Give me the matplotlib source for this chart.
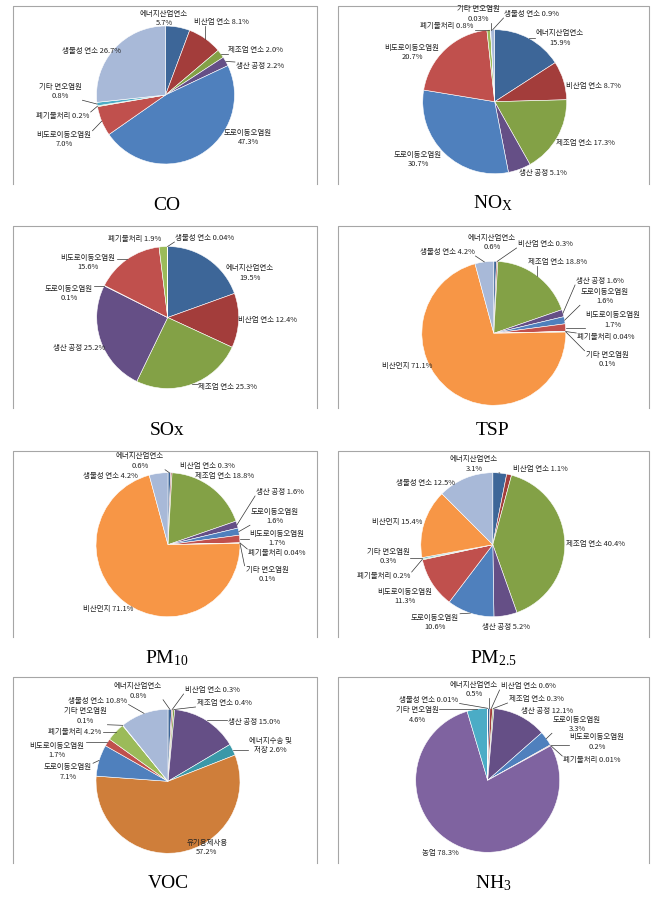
import matplotlib.pyplot as plt
import numpy as np

W, H = 669, 897

plt.rcParams['font.family'] = ['Noto Sans CJK KR', 'DejaVu Sans']
plt.rcParams['mathtext.fontset'] = 'custom'
plt.rcParams['mathtext.rm'] = 'Liberation Serif'
plt.rcParams['mathtext.it'] = 'Liberation Serif:italic'

# === Data ===
co_names = ['에너지산업연소', '비산업 연소', '제조업 연소', '생산 공정', '도로이동오염원',
            '비도로이동오염원', '폐기물처리', '기타 면오염원', '생물성 연소']
co_values = [5.7, 8.1, 2.0, 2.2, 47.3, 7.0, 0.2, 0.8, 26.7]

nox_names = co_names
nox_values = [15.9, 8.7, 17.3, 5.1, 30.7, 20.7, 0.8, 0.03, 0.9]

sox_names = ['에너지산업연소', '비산업 연소', '제조업 연소', '생산 공정', '도로이동오염원',
             '비도로이동오염원', '폐기물처리', '생물성 연소']
sox_values = [19.5, 12.4, 25.3, 25.2, 0.1, 15.6, 1.9, 0.04]

tsp_names = ['에너지산업연소', '비산업 연소', '제조업 연소', '생산 공정', '도로이동오염원',
             '비도로이동오염원', '폐기물처리', '기타 면오염원', '비산먼지', '생물성 연소']
tsp_values = [0.6, 0.3, 18.8, 1.6, 1.6, 1.7, 0.04, 0.1, 71.1, 4.2]

pm10_names = tsp_names
pm10_values = [0.6, 0.3, 18.8, 1.6, 1.6, 1.7, 0.04, 0.1, 71.1, 4.2]

pm25_names = tsp_names
pm25_values = [3.1, 1.1, 40.4, 5.2, 10.6, 11.3, 0.2, 0.3, 15.4, 12.5]

voc_names = ['에너지산업연소', '비산업 연소', '제조업 연소', '생산 공정', '에너지수송 및\n저장',
             '유기용제사용', '도로이동오염원', '비도로이동오염원', '폐기물처리', '기타 면오염원',
             '생물성 연소']
voc_values = [0.8, 0.3, 0.4, 15.0, 2.6, 57.2, 7.1, 1.7, 4.2, 0.1, 10.8]

nh3_names = ['에너지산업연소', '비산업 연소', '제조업 연소', '생산 공정', '도로이동오염원',
             '비도로이동오염원', '폐기물처리', '농업', '기타 면오염원', '생물성 연소']
nh3_values = [0.5, 0.6, 0.3, 12.1, 3.3, 0.2, 0.01, 78.3, 4.6, 0.01]

captions = ['CO', r'NO$_{\mathrm{X}}$', 'SOx', 'TSP',
            r'PM$_{10}$', r'PM$_{2.5}$', 'VOC', r'NH$_{3}$']

# === Colours ===
COLORS = {
    '에너지산업연소': '#3D6698',
    '비산업 연소': '#A33D3B',
    '제조업 연소': '#83A146',
    '생산 공정': '#654F86',
    '도로이동오염원': '#4F80BD',
    '비도로이동오염원': '#C0504D',
    '폐기물처리': '#9BBB59',
    '기타 면오염원': '#4BACC6',
    '생물성 연소': '#A8B9D8',
    '비산먼지': '#F79646',
    '에너지수송 및\n저장': '#3A98A8',
    '유기용제사용': '#CF7E3A',
    '농업': '#7F63A0',
}

# === Layout (pixels, top-left origin) ===
# label layout: (x, y, two lines, leader line)
co_lay = [(164, 18.5, True, False), (221, 22, False, True), (256, 50, False, True),
          (260, 66, False, True), (248, 137.5, True, False), (64, 139.5, True, True),
          (63, 116, False, True), (60, 91.5, True, True), (92, 51, False, False)]
nox_lay = [(560, 38, True, True), (593, 86, False, False), (585, 143, False, False),
           (543, 173, False, True), (418, 159.5, True, False), (412, 52.5, True, False),
           (447, 26, False, True), (478, 14, True, True), (532, 14, False, True)]
sox_lay = [(250, 273, True, False), (268, 320, False, False), (228, 387, False, True),
           (79, 348, False, False), (69, 293.5, True, True), (88, 262.5, True, True),
           (135, 239, False, False), (205, 238, False, True)]
tsp_lay = [(492, 242.5, True, False), (545, 244, False, True), (558, 262, False, True),
           (600, 281, False, True), (605, 296.5, True, True), (613, 320, True, True),
           (606, 337, False, True), (607, 359.5, True, True), (407, 366, False, False),
           (447, 252, False, True)]
pm10_lay = [(140, 461, True, True), (207, 466, False, False), (225, 476, False, False),
            (280, 492, False, True), (275, 516.5, True, True), (277, 538.5, True, True),
            (277, 553, False, True), (267, 574.5, True, True), (108, 609, False, False),
            (110, 475.5, False, False)]
pm25_lay = [(474, 464, True, True), (540, 469, False, False), (595, 544, False, False),
            (506, 627, False, False), (435, 622.5, True, True), (405, 596.5, True, False),
            (384, 576, False, True), (388, 556.5, True, True), (397, 522, False, False),
            (426, 483, False, False)]
voc_lay = [(138, 691, True, True), (212, 690, False, True), (224, 703, False, True),
           (254, 722, False, True), (270, 745.5, False, True), (207, 847.5, True, False),
           (68, 772, True, True), (57, 750.5, True, True), (75, 732, False, True),
           (85, 716, True, True), (98, 700.5, False, True)]
nh3_lay = [(474, 689.5, True, True), (528, 686, False, True), (536, 699, False, True),
           (547, 711, False, False), (577, 724.5, True, True), (597, 742, True, True),
           (592, 760, False, True), (440, 853, False, False), (417, 715, True, True),
           (429, 699.5, False, True)]

panels = [
    (co_names, co_values, co_lay, (165.5, 95), 69),
    (nox_names, nox_values, nox_lay, (494.7, 101.7), 72),
    (sox_names, sox_values, sox_lay, (167.7, 317.5), 71),
    (tsp_names, tsp_values, tsp_lay, (493.8, 333.3), 72),
    (pm10_names, pm10_values, pm10_lay, (168, 544.7), 72),
    (pm25_names, pm25_values, pm25_lay, (492.8, 544.7), 72),
    (voc_names, voc_values, voc_lay, (168, 781.3), 72),
    (nh3_names, nh3_values, nh3_lay, (487.7, 780.3), 72),
]
caption_pos = [(167, 205), (493, 203), (167, 430), (493, 430),
               (167, 658), (493, 658), (168, 883), (493, 883)]
box_x = [(13, 317), (338, 649)]
box_y = [(6, 184), (226, 408), (451, 637), (677, 863)]


def fmt(v):
    if abs(v * 10 - round(v * 10)) < 1e-9:
        return f"{v:.1f}"
    return f"{v:.2f}"


fig = plt.figure(figsize=(W / 100, H / 100), dpi=100)
ax = fig.add_axes([0, 0, 1, 1])

# boxes (no bottom edge, like the source)
for (y0, y1) in box_y:
    for (x0, x1) in box_x:
        ax.plot([x0, x0, x1, x1], [H - y1, H - y0, H - y0, H - y1],
                color='#A6A6A6', lw=0.8)

pending = []
for names, values, lay, (cx, cy), r in panels:
    wedges, _ = ax.pie(values, colors=[COLORS[n] for n in names], startangle=90,
                       counterclock=False, center=(cx, H - cy), radius=r, frame=True,
                       wedgeprops=dict(edgecolor='white', linewidth=0.4))
    for name, v, w, (lx, ly, two, lead) in zip(names, values, wedges, lay):
        sep = '\n' if two else ' '
        t = ax.text(lx, H - ly, f"{name}{sep}{fmt(v)}%", ha='center', va='center',
                    fontsize=5.4, linespacing=1.25, color='#222222',
                    multialignment='center')
        if lead:
            pending.append((t, w, r))

for (x, y), cap in zip(caption_pos, captions):
    ax.text(x, H - y, cap, ha='center', va='center', fontsize=14,
            family='Liberation Serif', color='black')

ax.set_xlim(0, W)
ax.set_ylim(0, H)
ax.set_aspect('equal')
ax.axis('off')

# leader lines from slice edge to nearest side of the label
fig.canvas.draw()
renderer = fig.canvas.get_renderer()
inv = ax.transData.inverted()
for t, w, r in pending:
    bb = t.get_window_extent(renderer).transformed(inv)
    th = np.deg2rad((w.theta1 + w.theta2) / 2)
    px = w.center[0] + r * np.cos(th)
    py = w.center[1] + r * np.sin(th)
    qx = np.clip(px, bb.x0 - 1, bb.x1 + 1)
    qy = np.clip(py, bb.y0, bb.y1)
    ax.plot([px, qx], [py, qy], color='#333333', lw=0.5)

fig.savefig('out.png', dpi=100)
